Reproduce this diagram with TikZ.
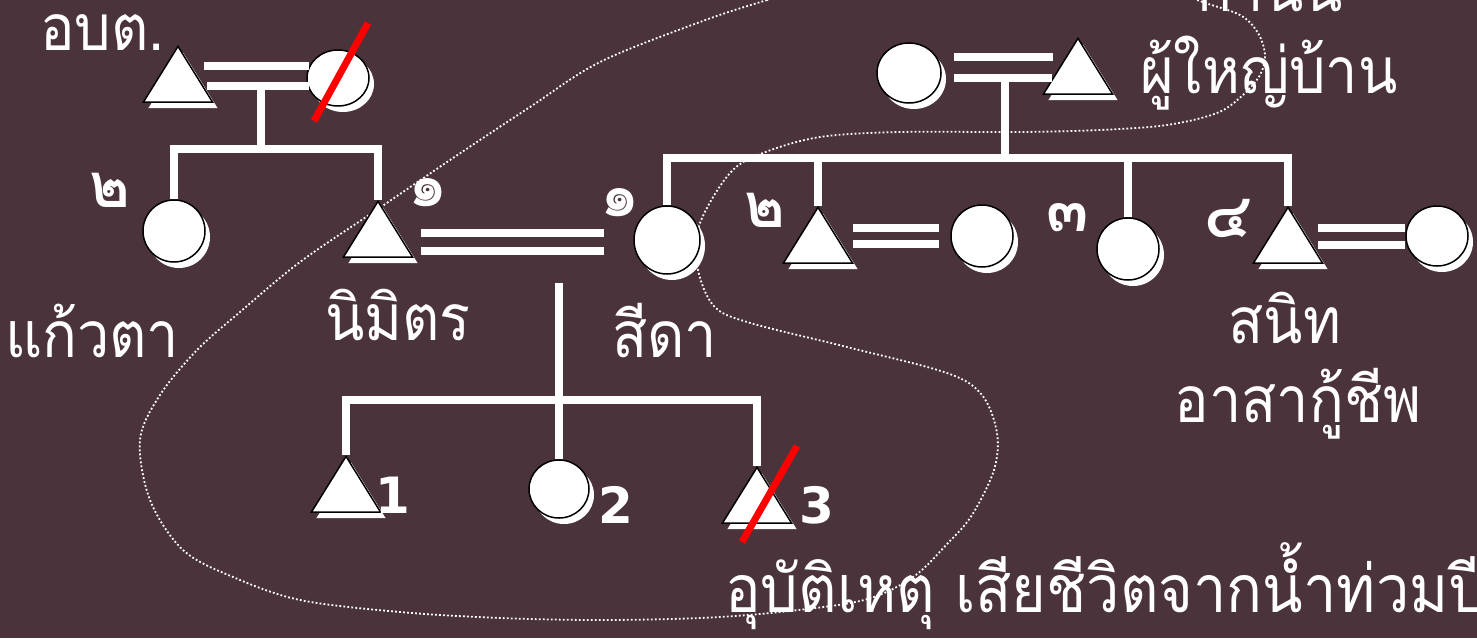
\documentclass[tikz,border=0pt]{standalone}
\usepackage{fontspec}
\newfontfamily\thai[Script=Thai, FakeStretch=0.9]{Loma}
\newfontfamily\thaib[Script=Thai]{Loma}
\newfontfamily\dvs{DejaVu Sans}
\usetikzlibrary{shapes.geometric,shadows}
\definecolor{bg}{RGB}{75,51,59}
\tikzset{
 ml/.style={draw=white, line width=8pt},
 male/.style={regular polygon, regular polygon sides=3, minimum size=80pt, inner sep=0pt, yscale=0.93, fill=white, draw=black, line width=1.5pt, anchor=corner 1, drop shadow={shadow xshift=5pt, shadow yshift=-6pt, fill=white, opacity=1}},
 female/.style={ellipse, inner sep=0pt, fill=white, draw=black, line width=1.5pt, drop shadow={shadow xshift=5pt, shadow yshift=-6pt, fill=white, opacity=1}},
 lbl/.style={text=white, font=\thai\fontsize{64}{66}\selectfont, inner sep=0pt},
 biglbl/.style={text=white, font=\thai\fontsize{66}{68}\selectfont, inner sep=0pt},
 num/.style={text=white, font=\thaib\bfseries\fontsize{62}{64}\selectfont, inner sep=0pt},
 dig/.style={text=white, font=\dvs\bfseries\fontsize{50}{52}\selectfont, inner sep=0pt},
 xout/.style={draw=red, line width=7pt},
 loopline/.style={draw=white, line width=1.8pt, dash pattern=on 1.8pt off 2.2pt}
}
\begin{document}
\begin{tikzpicture}[x=1pt,y=-1pt]
\fill[bg] (0,0) rectangle (1477,638);
\useasboundingbox (0,0) rectangle (1477,638);
\clip (0,0) rectangle (1477,638);
% dotted enclosure
\draw[loopline] plot[smooth cycle, tension=0.55] coordinates {
 (900,-40) (767,0) (700,22) (600,62) (530,107) (450,160) (378,209) (300,262)
 (240,312) (197,350) (160,395) (140,440) (150,500) (183,550) (233,577) (300,600)
 (400,612) (500,618) (600,620) (700,618) (780,612) (864,600) (913,577) (948,543)
 (972,515) (994,470) (997,433) (982,395) (947,373) (847,347) (747,322) (713,305)
 (697,265) (700,223) (730,173) (763,153) (820,137) (900,132) (1020,132) (1100,130)
 (1167,125) (1217,113) (1243,95) (1260,75) (1265,55) (1258,33) (1240,15) (1197,0)
 (1120,-30)};
% people
\node[male] (tA) at (178,45) {};
\node[female, minimum width=62pt, minimum height=56pt] (cA) at (338,78) {};
\node[female, minimum width=62pt, minimum height=62pt] (cK) at (174,231) {};
\node[male] (tN) at (378,200) {};
\node[female, minimum width=66pt, minimum height=68pt] (cS) at (667,240) {};
\node[male] (tC1) at (346,455) {};
\node[female, minimum width=60pt, minimum height=58pt] (cC2) at (559,489) {};
\node[male] (tC3) at (757,466) {};
\node[female, minimum width=64pt, minimum height=60pt] (cTop) at (909,73) {};
\node[male] (tTop) at (1078,37) {};
\node[male] (tR2) at (818,206) {};
\node[female, minimum width=62pt, minimum height=62pt] (cR2w) at (982,236) {};
\node[female, minimum width=62pt, minimum height=62pt] (cR3) at (1128,249) {};
\node[male] (tR4) at (1288,206) {};
\node[female, minimum width=62pt, minimum height=60pt] (cR4w) at (1437,236) {};
% junctions
\coordinate (mA) at (261,86);
\coordinate (jA) at (261,149);
\coordinate (jC) at (559,283);
\coordinate (jC2) at (559,400);
\coordinate (mT) at (1005,78);
\coordinate (jT) at (1005,158);
% left family
\draw[ml] ([shift={(26,21)}]tA.corner 1) -- ([shift={(3,-12)}]cA.west);
\draw[ml] ([shift={(29,41)}]tA.corner 1) -- ([shift={(3,8)}]cA.west);
\draw[ml] (mA) -- (jA);
\draw[ml] (cK.north) |- (jA) -| (tN.corner 1);
% nimit - sida
\draw[ml] ([shift={(43,33)}]tN.corner 1) -- ([shift={(-29,-7)}]cS.west);
\draw[ml] ([shift={(43,51)}]tN.corner 1) -- ([shift={(-29,11)}]cS.west);
\draw[ml] (jC) -- (jC2);
\draw[ml] (tC1.corner 1) |- (jC2) -| (tC3.corner 1);
\draw[ml] (jC2) -- (cC2.north);
% right family
\draw[ml] ([shift={(12,-16)}]cTop.east) -- ([shift={(-25,20)}]tTop.corner 1);
\draw[ml] ([shift={(12,5)}]cTop.east) -- ([shift={(-26,41)}]tTop.corner 1);
\draw[ml] (mT) -- (jT);
\draw[ml] (cS.north) |- (jT) -| (tR4.corner 1);
\draw[ml] (tR2.corner 1) -- (tR2.corner 1 |- jT);
\draw[ml] (cR3.north) -- (cR3.north |- jT);
\draw[ml] ([shift={(35,22)}]tR2.corner 1) -- ([shift={(-11,-8)}]cR2w.west);
\draw[ml] ([shift={(35,38)}]tR2.corner 1) -- ([shift={(-11,8)}]cR2w.west);
\draw[ml] ([shift={(30,22)}]tR4.corner 1) -- ([shift={(0,-8)}]cR4w.west);
\draw[ml] ([shift={(30,39)}]tR4.corner 1) -- ([shift={(0,9)}]cR4w.west);
% deceased marks
\draw[xout] ([shift={(30,-55)}]cA.center) -- ([shift={(-24,43)}]cA.center);
\draw[xout] ([shift={(40,-20)}]tC3.corner 1) -- ([shift={(-15,76)}]tC3.corner 1);
% labels
\node[lbl, anchor=base west] (l1) at (40,50) {อบต.};
\node[lbl, anchor=base west] (l2) at (5,357) {แก้วตา};
\node[lbl, anchor=base west] (l3) at (325,340) {นิมิตร};
\node[lbl, anchor=base west] (l4) at (612,357) {สีดา};
\node[lbl, anchor=base] (l5) at (1285,343) {สนิท};
\node[lbl, anchor=base] (l6) at (1298,422) {อาสากู้ชีพ};
\node[lbl, anchor=base west] (l7) at (1140,93) {ผู้ใหญ่บ้าน};
\node[lbl, anchor=base] (l8) at (1270,11) {กำนัน};
\node[biglbl, anchor=base west] (l9) at (725,612) {อุบัติเหตุ เสียชีวิตจากน้ำท่วมปี};
% birth order
\node[num] (n1) at (110,190) {๒};
\node[num] (n2) at (428,193) {๑};
\node[num] (n3) at (620,203) {๑};
\node[num] (n4) at (765,210) {๒};
\node[num] (n5) at (1068,218) {๓};
\node[num] (n6) at (1228,218) {๔};
\node[dig] (d1) at (393,495) {1};
\node[dig] (d2) at (616,505) {2};
\node[dig] (d3) at (817,505) {3};
\end{tikzpicture}
\end{document}
